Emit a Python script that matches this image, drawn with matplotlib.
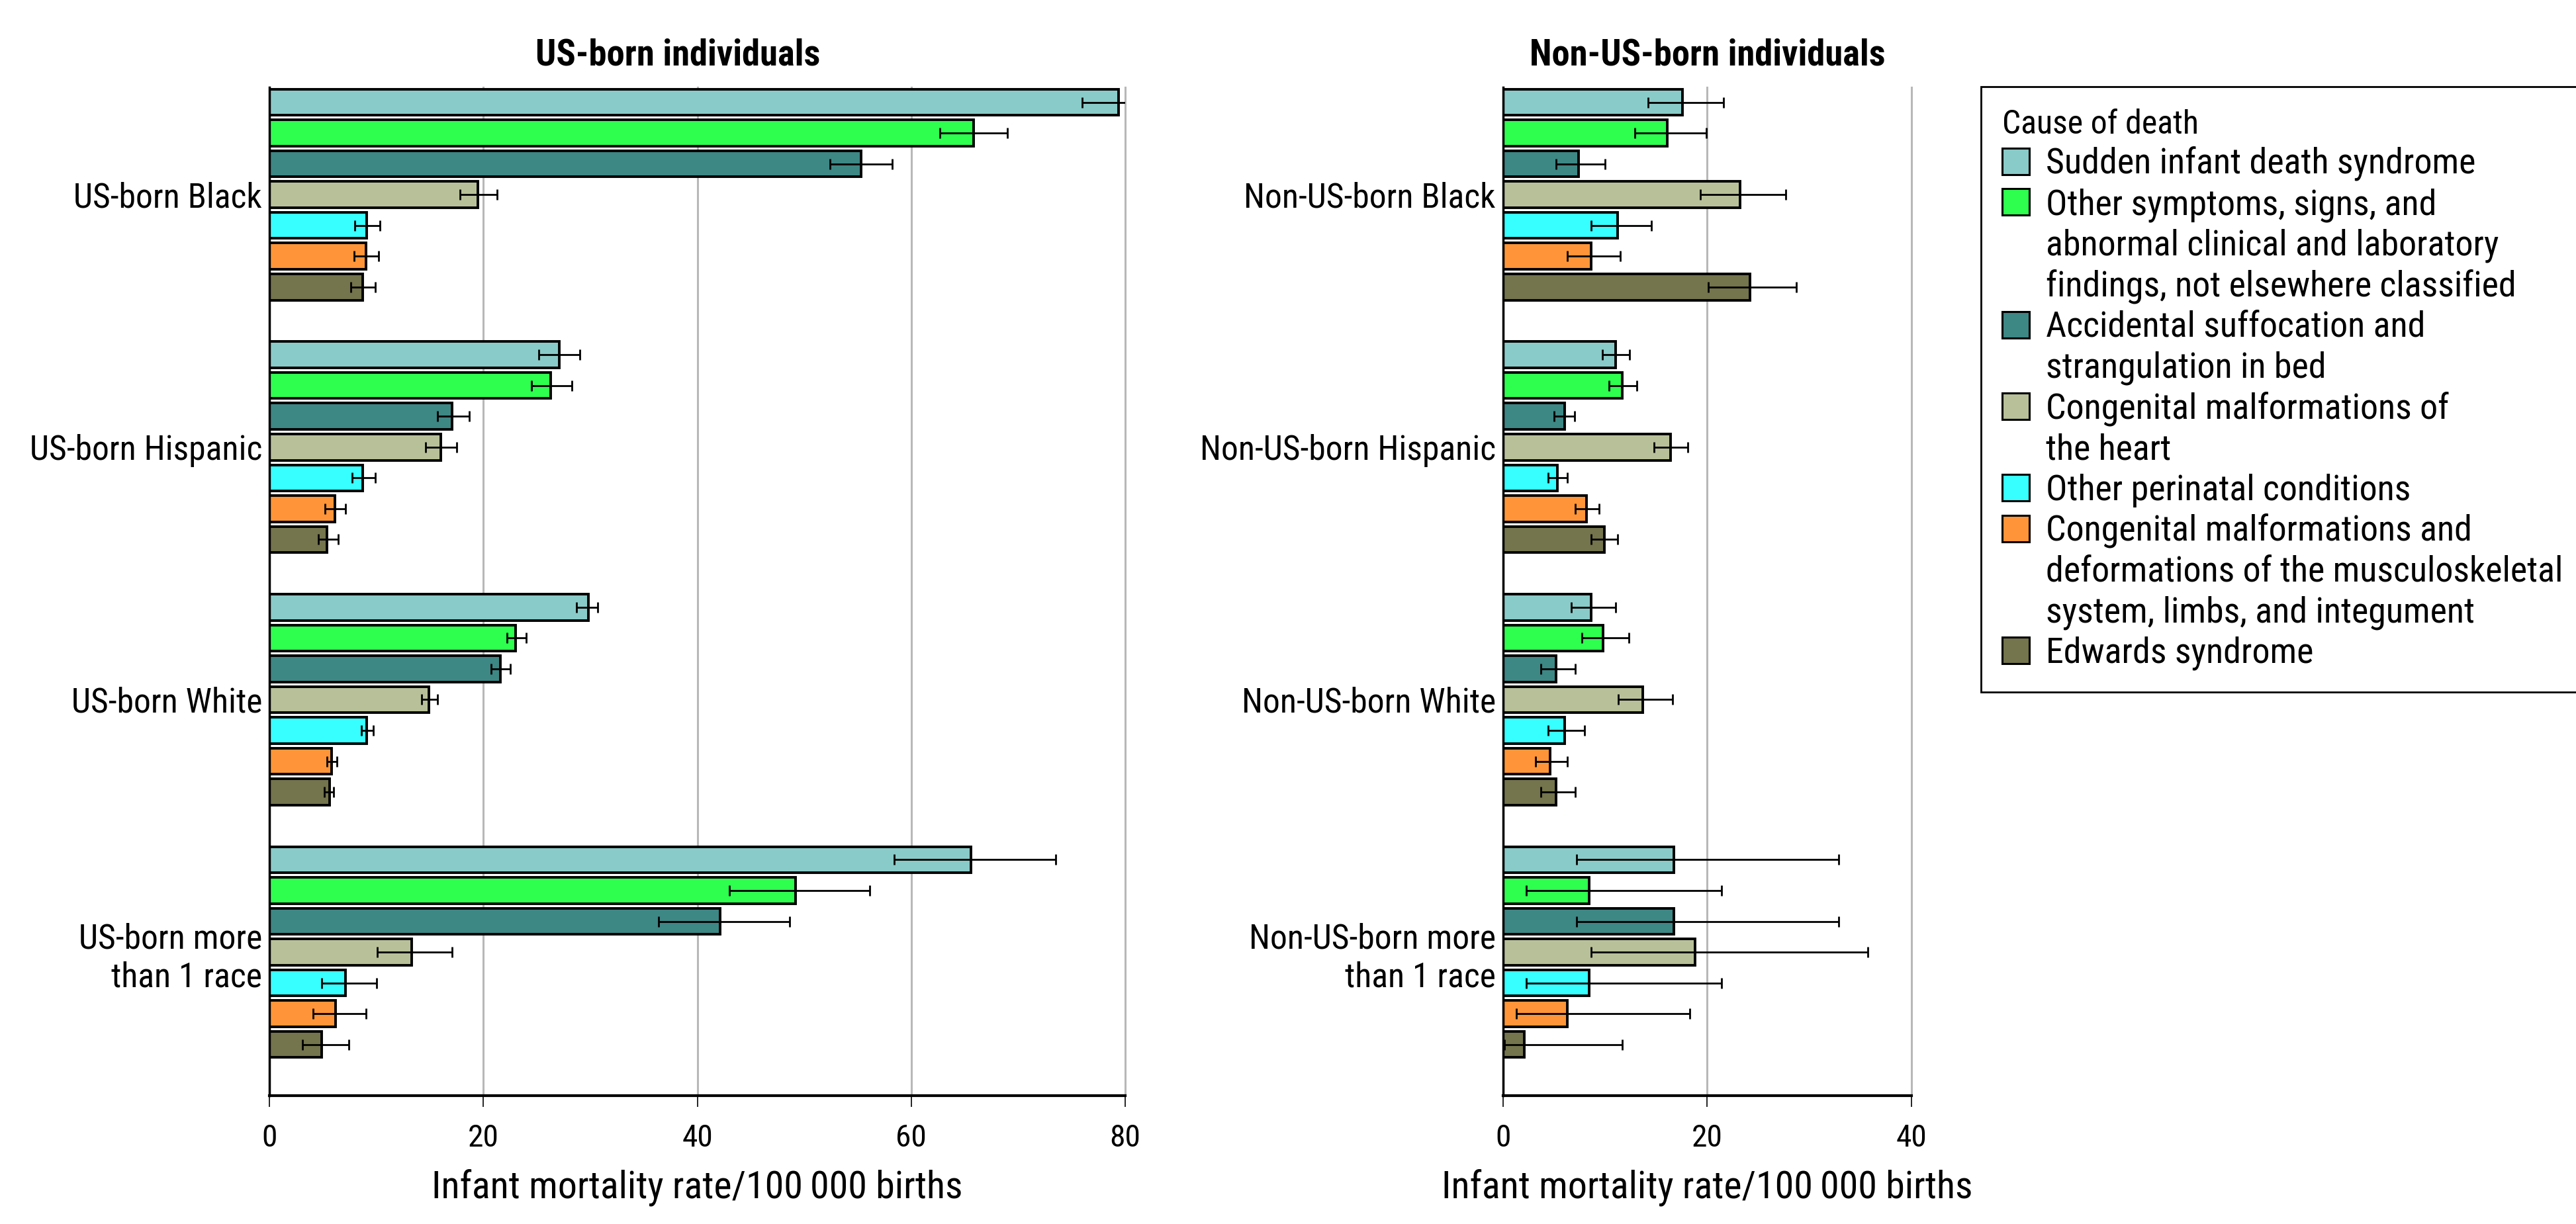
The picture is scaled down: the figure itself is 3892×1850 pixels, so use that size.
import numpy as np
import matplotlib
matplotlib.use('Agg')
import matplotlib.pyplot as plt
from matplotlib import font_manager
from matplotlib.patches import Patch

# causes of death, in the order the bars are drawn inside each group
causes = ['Sudden infant death syndrome',
          'Other symptoms, signs, and\nabnormal clinical and laboratory\nfindings, not elsewhere classified',
          'Accidental suffocation and\nstrangulation in bed',
          'Congenital malformations of\nthe heart',
          'Other perinatal conditions',
          'Congenital malformations and\ndeformations of the musculoskeletal\nsystem, limbs, and integument',
          'Edwards syndrome']
cause_colors = ['#89CBC8', '#2EFF4F', '#3D8785', '#B8C099', '#38FFFF', '#FF9538', '#74744D']

us_groups = ['US-born Black', 'US-born Hispanic', 'US-born White', 'US-born more\nthan 1 race']
us_rate = [[79.4, 65.8, 55.3, 19.5, 9.1, 9.0, 8.7],
           [27.1, 26.3, 17.1, 16.0, 8.7, 6.1, 5.4],
           [29.8, 23.0, 21.6, 14.9, 9.1, 5.8, 5.6],
           [65.6, 49.2, 42.1, 13.3, 7.1, 6.2, 4.9]]
us_lo = [[76.0, 62.7, 52.4, 17.8, 8.0, 7.9, 7.6],
         [25.2, 24.5, 15.7, 14.6, 7.7, 5.2, 4.6],
         [28.7, 22.2, 20.7, 14.2, 8.6, 5.4, 5.1],
         [58.4, 43.0, 36.4, 10.1, 4.9, 4.1, 3.1]]
us_hi = [[82.9, 69.0, 58.2, 21.3, 10.3, 10.2, 9.9],
         [29.0, 28.3, 18.7, 17.5, 9.9, 7.1, 6.4],
         [30.7, 24.0, 22.5, 15.7, 9.7, 6.3, 6.0],
         [73.5, 56.1, 48.6, 17.1, 10.0, 9.0, 7.4]]

non_us_groups = ['Non-US-born Black', 'Non-US-born Hispanic', 'Non-US-born White',
                 'Non-US-born more\nthan 1 race']
non_us_rate = [[17.6, 16.1, 7.4, 23.2, 11.2, 8.6, 24.2],
               [11.0, 11.7, 6.0, 16.4, 5.3, 8.2, 9.9],
               [8.6, 9.8, 5.2, 13.7, 6.0, 4.6, 5.2],
               [16.7, 8.4, 16.7, 18.8, 8.4, 6.3, 2.1]]
non_us_lo = [[14.2, 12.9, 5.2, 19.3, 8.6, 6.3, 20.1],
             [9.7, 10.4, 5.0, 14.8, 4.4, 7.1, 8.6],
             [6.7, 7.7, 3.7, 11.3, 4.4, 3.2, 3.7],
             [7.2, 2.3, 7.2, 8.6, 2.3, 1.3, 0.1]]
non_us_hi = [[21.6, 19.9, 10.0, 27.7, 14.5, 11.5, 28.7],
             [12.4, 13.1, 7.0, 18.1, 6.3, 9.4, 11.2],
             [11.0, 12.3, 7.1, 16.6, 8.0, 6.3, 7.1],
             [32.9, 21.4, 32.9, 35.7, 21.4, 18.3, 11.7]]

XLABEL = 'Infant mortality rate/100\u2009000 births'

# pick a narrow sans if one is around, the original uses a condensed face
ttf = font_manager.fontManager.ttflist
names = {f.name for f in ttf}
chosen, stretch = None, 'normal'
for cand in ['Liberation Sans Narrow', 'Roboto Condensed', 'Open Sans Condensed',
             'Noto Sans Condensed', 'DejaVu Sans Condensed']:
	if cand in names:
		chosen = cand
		break
if chosen is None:
	for fam in ['DejaVu Sans', 'Noto Sans', 'Open Sans']:
		hits = [f for f in ttf if f.name == fam and str(f.stretch) in ('condensed', 'semi-condensed')]
		if hits:
			chosen, stretch = fam, str(hits[0].stretch)
			break
if chosen is None:
	chosen = 'Roboto' if 'Roboto' in names else 'DejaVu Sans'
plt.rcParams['font.family'] = [chosen, 'DejaVu Sans']
plt.rcParams['font.stretch'] = stretch

fig = plt.figure(figsize=(38.92, 18.5), dpi=100)
renderer = fig.canvas.get_renderer()


def text_box(s, size, weight='normal'):
	t = fig.text(0, 0, s, fontsize=size, fontweight=weight)
	bb = t.get_window_extent(renderer)
	t.remove()
	return bb


def fit_size(s, target_px, weight='normal'):
	return 40 * target_px / text_box(s, 40, weight).width


label_fs = fit_size('US-born Black', 284)
title_fs = fit_size('US-born individuals', 430, 'bold')
xlabel_fs = fit_size(XLABEL, 802)
legend_fs = fit_size('Sudden infant death syndrome', 650)
legtitle_fs = fit_size('Cause of death', 297)
tick_fs = label_fs * 0.92

GROUP_STEP = 8.2


def draw_panel(ax, groups, rate, lo, hi, xmax, title, title_x=0.5):
	rate = np.array(rate)
	lo = np.array(lo)
	hi = np.array(hi)
	group_pos = np.arange(len(groups)) * GROUP_STEP
	for k in range(len(cause_colors)):
		y = group_pos + k
		vals = rate[:, k]
		ax.barh(y, vals, height=0.85, color=cause_colors[k], edgecolor='black',
			linewidth=2.8, zorder=2)
		ax.errorbar(vals, y, xerr=[vals - lo[:, k], hi[:, k] - vals], fmt='none',
			ecolor='black', elinewidth=2.0, capsize=6, capthick=2.0, zorder=3)
	ax.set_yticks(group_pos + 3, groups)
	ax.set_ylim(32.26, -0.49)
	ax.set_xlim(0, xmax)
	ax.set_xticks(np.arange(0, xmax + 1, 20))
	ax.grid(axis='x', color='#b8b8b8', linewidth=2.2)
	for line in ax.get_xgridlines():
		line.set_clip_on(False)
	ax.set_axisbelow(True)
	for side in ['top', 'right']:
		ax.spines[side].set_visible(False)
	ax.spines['left'].set_linewidth(2.5)
	ax.spines['bottom'].set_linewidth(3)
	ax.tick_params(axis='x', length=12, width=1.2, pad=18, labelsize=tick_fs)
	ax.tick_params(axis='y', length=0, pad=8, labelsize=label_fs)
	ax.set_xlabel(XLABEL, fontsize=xlabel_fs, labelpad=18)
	ax.set_title(title, fontsize=title_fs, fontweight='bold', pad=24)
	ax.title.set_x(title_x)


ax1 = fig.add_axes([0.1046, 0.1049, 0.3322, 0.8239])
ax2 = fig.add_axes([0.5835, 0.1049, 0.1585, 0.8239])

draw_panel(ax1, us_groups, us_rate, us_lo, us_hi, 80, 'US-born individuals', title_x=0.477)
draw_panel(ax2, non_us_groups, non_us_rate, non_us_lo, non_us_hi, 40, 'Non-US-born individuals')

# legend: one row per text line so the swatch sits on the first line
handles = []
labels = []
for cause, color in zip(causes, cause_colors):
	lines = cause.split('\n')
	handles.append(Patch(facecolor=color, edgecolor='black', linewidth=2.2))
	labels.append(lines[0])
	for extra in lines[1:]:
		handles.append(Patch(facecolor='none', edgecolor='none'))
		labels.append(extra)

fs_px = legend_fs * 100 / 72
row_h = text_box('Ag', legend_fs).height
spacing = max((61 - row_h) / fs_px, 0.0)
swatch = 41 / fs_px

leg = fig.legend(handles, labels, loc='upper left', bbox_to_anchor=(0.769, 0.929),
	title='Cause of death', alignment='left', fontsize=legend_fs, title_fontsize=legtitle_fs,
	frameon=True, fancybox=False, edgecolor='black', framealpha=1,
	handlelength=swatch, handleheight=swatch, handletextpad=0.45, labelspacing=spacing,
	borderpad=0.6, borderaxespad=0)
leg.get_frame().set_linewidth(2)

fig.savefig('out.png', dpi=100)
